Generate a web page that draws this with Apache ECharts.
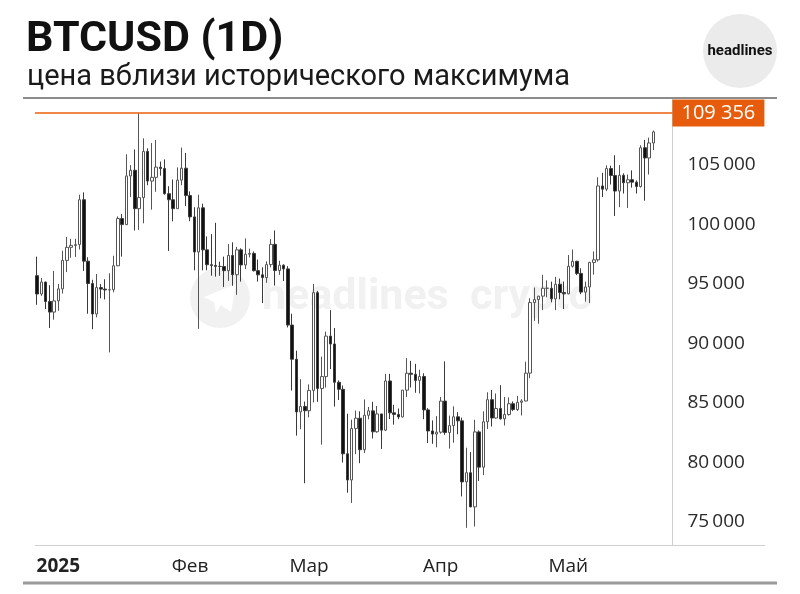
<!DOCTYPE html>
<html>
<head>
<meta charset="utf-8">
<script src="https://cdn.jsdelivr.net/npm/echarts@6/dist/echarts.min.js"></script>
<style>
html,body{margin:0;padding:0;background:#fff;}
#chart{width:800px;height:594px;}
</style>
</head>
<body>
<div id="chart"></div>
<script>
// ---- data ----
const START_DATE = '2024-12-27';
const CATEGORY_COUNT = 150; // daily slots on the axis (Dec 27 .. May 25)
const opens  = [95700,94160,95160,93530,92640,93580,94590,96980,98080,98240,98310,102080,96920,95040,92480,94700,94570,94500,94520,96530,100500,99990,104080,104560,101330,102260,106140,103650,103960,104820,104710,102590,102080,101330,103730,104730,102430,100640,97690,101400,97870,96620,96560,96480,96470,96120,97400,95780,97870,96600,97500,97570,96120,95770,95540,96630,98330,96130,96580,96270,91550,88680,84250,84710,84350,86060,94270,86220,87220,90620,89960,86740,86150,80730,78530,82860,83720,81070,83970,84340,82580,84080,82720,86850,84170,84040,83830,86080,87500,87410,86900,87230,84420,82650,82390,82550,85160,82520,83100,83840,83500,78370,79140,76270,82570,79610,83420,85280,83740,84540,83670,84030,84940,84450,85060,85170,87510,93440,93690,93980,94640,94640,93750,94980,94280,94170,96490,96910,95890,94320,94750,96810,97030,103240,102970,104700,104120,102810,104130,103510,103760,103560,103190,106450,105590,106850];
const highs  = [97300,95500,95200,94900,96100,95000,97800,98950,98800,98800,102500,102700,97250,95350,95840,95000,95400,95900,97370,100680,100870,105900,104990,106300,109356,107240,106400,106850,107100,105290,105470,103220,103780,104800,106460,106010,102780,101450,102500,101750,99000,99190,100140,96880,97300,98350,98500,98120,98000,98830,97970,97730,97050,96400,96900,98770,99500,96950,96650,96500,92500,89400,87000,85120,86560,95000,94420,88900,91000,92800,91300,86900,86470,84100,83600,84360,84300,85300,84670,85100,84750,84100,87450,87450,84850,84540,86100,88770,88540,88290,87790,87500,84570,83540,83900,85500,88500,83940,84720,84230,83770,81240,80870,83590,82700,84300,85900,86100,85800,86500,85500,85470,85130,85600,85320,88470,93800,94700,94000,95770,95300,95200,95600,95460,95200,97440,97900,96950,96320,95200,96870,97730,103970,104340,104970,104940,105820,104990,104300,104200,104550,103710,106660,107110,107300,107900];
const lows   = [93250,94000,92900,91300,92000,92750,94200,96000,97200,97270,97900,96100,92500,91200,92200,93800,93700,89256,94300,96500,97300,99950,102300,99500,99550,100100,103300,101250,102750,104100,102500,97780,100270,101330,103300,101560,100280,96150,91230,96150,96150,95700,95620,95690,94750,95260,94850,94090,95200,96250,97230,96050,95200,93400,95100,96400,94870,95770,95250,91350,86050,82260,82800,78260,83800,85050,85100,81500,86300,87850,84700,85250,80000,77460,76600,80700,79940,80800,83630,82020,82500,81140,82640,83650,83180,83640,83780,85500,86300,85860,85800,83640,81640,81570,81280,82430,82320,81170,81660,82370,77150,74510,76240,74620,78450,78940,82820,83030,83680,83600,83110,83940,84320,84330,83950,85140,87080,91900,91660,92800,93880,93460,92800,93720,92900,94130,96380,95750,94140,93520,93400,95790,96880,102300,102810,103360,100720,101460,102600,101390,103100,102600,103100,102000,104200,106260];
const closes = [94160,95160,93530,92640,93580,94590,96980,98080,98240,98310,102080,96920,95040,92480,94700,94570,94500,94520,96530,100500,99990,104080,104560,101330,102260,106140,103650,103960,104820,104710,102590,102080,101330,103730,104730,102430,100640,97690,101400,97870,96620,96560,96480,96470,96120,97400,95780,97870,96600,97500,97570,96120,95770,95540,96630,98330,96130,96580,96270,91550,88680,84250,84710,84350,86060,94270,86220,87220,90620,89960,86740,86150,80730,78530,82860,83720,81070,83970,84340,82580,84080,82720,86850,84170,84040,83830,86080,87500,87410,86900,87230,84420,82650,82390,82550,85160,82520,83100,83840,83500,78370,79140,76270,82570,79610,83420,85280,83740,84540,83670,84030,84940,84450,85060,85170,87510,93440,93690,93980,94640,94640,93750,94980,94280,94170,96490,96910,95890,94320,94750,96810,97030,103240,102970,104700,104120,102810,104130,103510,103760,103560,103190,106450,105590,106850,107780];
const ATH = 109356;
const yTicks = [75000,80000,85000,90000,95000,100000,105000];
const monthStarts = ['2025-01-01','2025-02-01','2025-03-01','2025-04-01','2025-05-01'];
const monthLabels = ['2025','Фев','Мар','Апр','Май'];

// ---- build ----
function pad(n){return n<10?'0'+n:''+n;}
const categories = [];
{
  const d = new Date(START_DATE + 'T00:00:00Z');
  for (let i = 0; i < CATEGORY_COUNT; i++) {
    categories.push(d.getUTCFullYear()+'-'+pad(d.getUTCMonth()+1)+'-'+pad(d.getUTCDate()));
    d.setUTCDate(d.getUTCDate()+1);
  }
}
const candles = opens.map((o,i)=>[o, closes[i], lows[i], highs[i]]);
const fmt = (v, sep) => String(v).replace(/\B(?=(\d{3})+(?!\d))/g, sep);
const ORANGE = '#ea5f0c';
const GRID = {left: 34.9, right: 127.6, top: 98, bottom: 49};

const chart = echarts.init(document.getElementById('chart'), null, {renderer:'canvas'});
const option = {
  animation: false,
  backgroundColor: '#ffffff',
  grid: Object.assign({containLabel: false, outerBoundsMode: 'none'}, GRID),
  xAxis: {
    type: 'category',
    data: categories,
    boundaryGap: true,
    axisLine: {show: false},
    axisTick: {show: false},
    splitLine: {show: false},
    axisLabel: {
      interval: (idx, val) => monthStarts.indexOf(val) >= 0,
      formatter: (val) => {
        const k = monthStarts.indexOf(val);
        if (k < 0) return '';
        return k === 0 ? '{b|' + monthLabels[k] + '}' : monthLabels[k];
      },
      color: '#222',
      fontFamily: 'Open Sans',
      fontSize: 19,
      margin: 12,
      hideOverlap: false,
      rich: {b: {fontWeight: 'bold', fontFamily: 'Open Sans', fontSize: 19, color: '#222'}}
    }
  },
  yAxis: {
    type: 'value',
    position: 'right',
    min: 73067,
    max: 110630,
    scale: true,
    splitLine: {show: false},
    axisTick: {show: false},
    axisLine: {show: true, lineStyle: {color: '#cfcfcf', width: 1}},
    axisLabel: {
      customValues: yTicks,
      formatter: (v) => fmt(v, '\u2009'),
      color: '#2a2a2a',
      fontFamily: 'Open Sans',
      fontSize: 19,
      margin: 15
    }
  },
  series: [{
    type: 'candlestick',
    data: candles,
    barWidth: 3,
    z: 3,
    itemStyle: {
      color: '#ffffff',
      color0: '#111111',
      borderColor: '#555555',
      borderColor0: '#3a3a3a',
      borderWidth: 1
    }
  }],
  graphic: [
    // header
    {type:'text', left: 26, top: 19, z: 10, style: {text: 'BTCUSD (1D)', font: 'bold 43px Roboto', fill: '#111'}},
    {type:'text', left: 27, top: 63, z: 10, style: {text: 'цена вблизи исторического максимума', font: '29px Roboto', fill: '#1a1a1a'}},
    // logo
    {type:'circle', shape: {cx: 740, cy: 51, r: 37}, style: {fill: '#ebebeb'}, z: 10},
    {type:'text', x: 740, y: 51, z: 11, style: {text: 'headlines', font: 'bold 15px Roboto', fill: '#111', align: 'center', verticalAlign: 'middle'}},
    // rules
    {type:'line', shape: {x1: 23, y1: 98, x2: 777, y2: 98}, style: {stroke: '#8c8c8c', lineWidth: 2}, z: 10},
    {type:'line', shape: {x1: 35, y1: 545.5, x2: 765, y2: 545.5}, style: {stroke: '#cfcfcf', lineWidth: 1}, z: 10},
    {type:'line', shape: {x1: 23, y1: 583, x2: 777, y2: 583}, style: {stroke: '#9a9a9a', lineWidth: 3}, z: 10},
    // watermark
    {type:'circle', shape: {cx: 220, cy: 298, r: 30}, style: {fill: '#f1f1f1'}, z: 0},
    {type:'polygon', shape: {points: [[204,297],[236,284],[231,312],[221,305],[216,313],[214,302]]}, style: {fill: '#ffffff'}, z: 0},
    {type:'text', x: 262, y: 298, z: 0, style: {text: 'headlines  crypto', font: 'bold 43px Roboto', fill: '#f1f1f1', verticalAlign: 'middle'}}
  ]
};
chart.setOption(option);

// ATH reference line and price tag, placed through the axis scale
const athY = Math.round(chart.convertToPixel({yAxisIndex: 0}, ATH));
const plotRight = 800 - GRID.right;
chart.setOption({
  graphic: option.graphic.concat([
    {type:'line', shape: {x1: GRID.left, y1: athY, x2: plotRight, y2: athY}, style: {stroke: ORANGE, lineWidth: 1.6}, z: 5},
    {type:'rect', shape: {x: plotRight, y: athY - 13.5, width: 92, height: 27}, style: {fill: '#e65c0c'}, z: 12},
    {type:'text', x: plotRight + 46, y: athY, z: 13, style: {text: fmt(ATH, ' '), font: '20px "Open Sans"', fill: '#ffffff', align: 'center', verticalAlign: 'middle'}}
  ])
});
</script>
</body>
</html>
